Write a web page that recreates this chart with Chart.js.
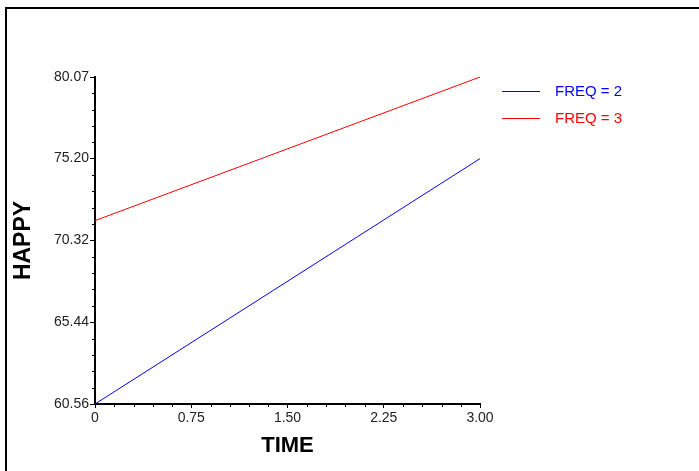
<!DOCTYPE html>
<html>
<head>
<meta charset="utf-8">
<script src="https://cdn.jsdelivr.net/npm/chart.js@4"></script>
<style>
  html, body { margin: 0; padding: 0; background: #fff; }
  #wrap { position: relative; width: 699px; height: 471px; overflow: hidden; }
  #frame { position: absolute; left: 5px; top: 7px; width: 800px; height: 600px;
           border-left: 2px solid #000; border-top: 2px solid #000; pointer-events: none; }
</style>
</head>
<body>
<div id="wrap">
  <canvas id="chart" width="699" height="471"></canvas>
  <div id="frame"></div>
</div>
<script>
// data
const timeValues = [0, 3];
const freq2 = [60.56, 75.20];
const freq3 = [71.5, 80.07];
const yTickValues = [60.56, 65.44, 70.32, 75.20, 80.07];
const xTickValues = [0, 0.75, 1.5, 2.25, 3];
const seriesNames = ['FREQ = 2', 'FREQ = 3'];
const seriesColors = ['#0000ff', '#ff0000'];

const FONT = "'Liberation Sans', Arial, sans-serif";

// little ticks between the labelled ones, 4 per gap
const minorTicks = {
  id: 'minorTicks',
  afterDraw(chart) {
    const ctx = chart.ctx;
    const { x, y } = chart.scales;
    ctx.save();
    ctx.strokeStyle = '#000';
    ctx.lineWidth = 1;
    ctx.beginPath();
    for (let i = 0; i < yTickValues.length - 1; i++) {
      const a = yTickValues[i], b = yTickValues[i + 1];
      for (let k = 1; k < 5; k++) {
        const py = Math.round(y.getPixelForValue(a + (b - a) * k / 5)) + 0.5;
        ctx.moveTo(x.left - 3, py);
        ctx.lineTo(x.left, py);
      }
    }
    for (let i = 0; i < xTickValues.length - 1; i++) {
      const a = xTickValues[i], b = xTickValues[i + 1];
      for (let k = 1; k < 5; k++) {
        const px = Math.round(x.getPixelForValue(a + (b - a) * k / 5)) + 0.5;
        ctx.moveTo(px, y.bottom);
        ctx.lineTo(px, y.bottom + 3);
      }
    }
    ctx.stroke();
    ctx.restore();
  }
};

// legend sitting to the right of the plot
const sideLegend = {
  id: 'sideLegend',
  afterDraw(chart) {
    const ctx = chart.ctx;
    const area = chart.chartArea;
    ctx.save();
    ctx.font = '15px ' + FONT;
    ctx.textBaseline = 'middle';
    chart.data.datasets.forEach((ds, i) => {
      const ly = area.top + 14.5 + i * 27;
      ctx.strokeStyle = ds.borderColor;
      ctx.lineWidth = 1;
      ctx.beginPath();
      ctx.moveTo(area.right + 22, ly);
      ctx.lineTo(area.right + 60, ly);
      ctx.stroke();
      ctx.fillStyle = ds.borderColor;
      ctx.fillText(ds.label, area.right + 75, ly);
    });
    ctx.restore();
  }
};

const chart = new Chart(document.getElementById('chart'), {
  type: 'line',
  data: {
    datasets: [
      {
        label: seriesNames[0],
        data: timeValues.map((t, i) => ({ x: t, y: freq2[i] })),
        borderColor: seriesColors[0],
        borderWidth: 1,
        pointRadius: 0,
        fill: false,
        tension: 0
      },
      {
        label: seriesNames[1],
        data: timeValues.map((t, i) => ({ x: t, y: freq3[i] })),
        borderColor: seriesColors[1],
        borderWidth: 1,
        pointRadius: 0,
        fill: false,
        tension: 0
      }
    ]
  },
  options: {
    responsive: false,
    animation: false,
    clip: false,
    layout: { padding: { top: 77, right: 219, left: 0, bottom: 0 } },
    plugins: {
      legend: { display: false },
      tooltip: { enabled: false }
    },
    scales: {
      x: {
        type: 'linear',
        min: 0,
        max: 3,
        afterBuildTicks: (scale) => { scale.ticks = xTickValues.map(v => ({ value: v })); },
        afterFit: (scale) => { scale.height = 67; },
        ticks: {
          color: '#222',
          font: { family: FONT, size: 14 },
          padding: 2,
          maxRotation: 0,
          autoSkip: false,
          callback: (v) => v === 0 ? '0' : v.toFixed(2)
        },
        grid: { drawOnChartArea: false, drawTicks: true, tickLength: 4, color: '#000', lineWidth: 1 },
        border: { color: '#000', width: 2 },
        title: {
          display: true,
          text: 'TIME',
          color: '#000',
          font: { family: FONT, size: 22, weight: 'bold', lineHeight: 1 },
          padding: { top: 0, bottom: 14 }
        }
      },
      y: {
        type: 'linear',
        min: 60.56,
        max: 80.07,
        afterBuildTicks: (scale) => { scale.ticks = yTickValues.map(v => ({ value: v })); },
        afterFit: (scale) => { scale.width = 95; },
        ticks: {
          color: '#222',
          font: { family: FONT, size: 14 },
          padding: 1,
          autoSkip: false,
          callback: (v) => v.toFixed(2)
        },
        grid: { drawOnChartArea: false, drawTicks: true, tickLength: 5, color: '#000', lineWidth: 1 },
        border: { color: '#000', width: 2 },
        title: {
          display: true,
          text: 'HAPPY',
          color: '#000',
          font: { family: FONT, size: 23, weight: 'bold', lineHeight: 1 },
          padding: { top: 12, bottom: 0 }
        }
      }
    }
  },
  plugins: [minorTicks, sideLegend]
});
</script>
</body>
</html>
